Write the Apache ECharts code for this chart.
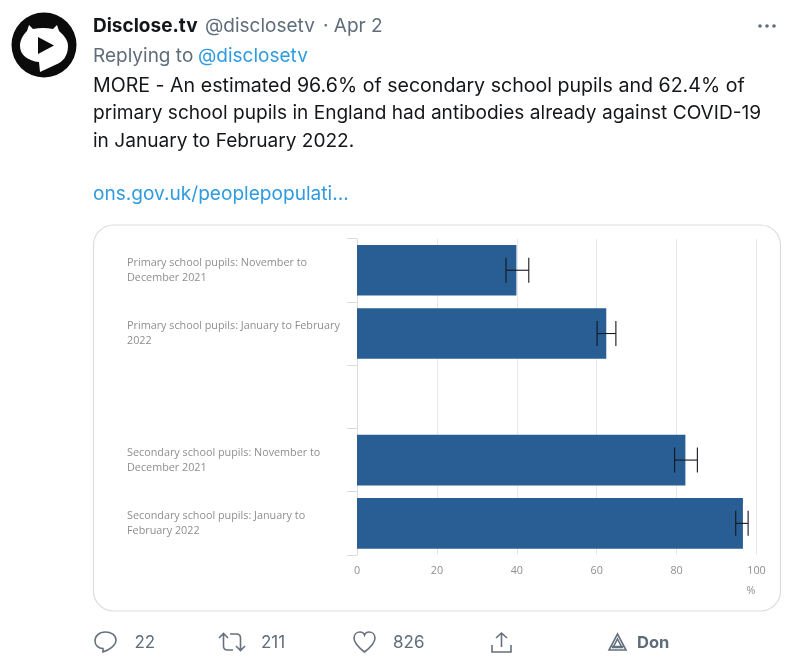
<!DOCTYPE html>
<html>
<head>
    <meta charset="utf-8">
    <title>Disclose.tv antibodies chart</title>
    <script src="https://cdn.jsdelivr.net/npm/echarts@6/dist/echarts.min.js"></script>
    <style>
        html, body { margin: 0; padding: 0; background: #fff; }
    </style>
</head>
<body>
    <div id="main" style="width: 800px;height:670px;"></div>
    <script type="text/javascript">
        // chart data
        var categories = [
            'Primary school pupils: November to\nDecember 2021',
            'Primary school pupils: January to February\n2022',
            '',
            'Secondary school pupils: November to\nDecember 2021',
            'Secondary school pupils: January to\nFebruary 2022'
        ];
        var percentages = [39.9, 62.4, null, 82.2, 96.6];
        var errorLow = [37.3, 60.1, null, 79.5, 94.8];
        var errorHigh = [43.0, 64.8, null, 85.2, 97.9];
        var xTicks = { min: 0, max: 100, interval: 20 };

        // tweet text
        var bodyLines = [
            'MORE - An estimated 96.6% of secondary school pupils and 62.4% of',
            'primary school pupils in England had antibodies already against COVID-19',
            'in January to February 2022.'
        ];
        var tweetCounts = ['22', '211', '826'];

        var tweetFont = 'Inter, "Noto Sans", sans-serif';
        var grayText = '#5f6d7a';
        var iconColor = '#66717d';

        // graphic has no plain path type, so the icons are registered as shapes
        var iconPaths = {
            avatarBubble: 'M9 1 L13 5 Q23 3 33 5 L37 1 L39 7 C45 12 48 17 48 22 C48 32 43 38 35 41 L20 48 L19 38 C8 37 0 31 0 22 C0 16 3 11 7 7 Z',
            reply: 'M10.5 0 C4 0 0 4 0 9 C0 13.5 3.5 16.5 8 16.5 L8 20 C14 18 21 13.5 21 8 C21 3 16 0 10.5 0 Z',
            retweet: 'M0 5 L4.5 0.5 L9 5 M4.5 0.5 V13 Q4.5 17 8.5 17 H14 M26 13 L21.5 17.5 L17 13 M21.5 17.5 V5 Q21.5 1 17.5 1 H11',
            heart: 'M10.5 20 C4 15 0 11 0 6 C0 2 3 0 6 0 C8 0 10 1.5 10.5 3 C11 1.5 13 0 15 0 C18 0 21 2 21 6 C21 11 17 15 10.5 20 Z',
            share: 'M9.5 15 V1 M4 6 L9.5 1 L15 6 M0 13 V20 H19 V13',
            donate: 'M8.5 0 L17 16 H0 Z M8.5 5 L13 13.5 H4 Z M2 12.5 H15'
        };
        Object.keys(iconPaths).forEach(function (name) {
            echarts.graphic.registerShape(name, echarts.graphic.extendPath(iconPaths[name], {}));
        });

        function label(x, y, text, size, color, weight) {
            return {
                type: 'text',
                x: x,
                y: y,
                silent: true,
                style: {
                    text: text,
                    fill: color,
                    font: (weight || 'normal') + ' ' + size + 'px ' + tweetFont,
                    verticalAlign: 'middle'
                }
            };
        }

        function icon(name, x, y, fill) {
            return {
                type: name,
                silent: true,
                x: x,
                y: y,
                style: {
                    fill: fill || 'none',
                    stroke: fill ? 'none' : iconColor,
                    lineWidth: 1.6
                }
            };
        }

        // tweet chrome around the chart
        var chrome = [
            // card
            {
                type: 'rect', silent: true, z: -1,
                shape: { x: 93.5, y: 225, width: 687, height: 386, r: 20 },
                style: { fill: '#fff', stroke: '#d9dde1', lineWidth: 1.2 }
            },
            // avatar
            { type: 'circle', silent: true, shape: { cx: 44, cy: 45, r: 32.5 }, style: { fill: '#0b0b0b' } },
            icon('avatarBubble', 20, 24, '#fff'),
            { type: 'polygon', silent: true, shape: { points: [[38, 37], [54, 45.5], [38, 54]] }, style: { fill: '#0b0b0b' } },

            // header
            label(93, 26.5, 'Disclose.tv', 19, '#14171a', 'bold'),
            label(205, 26.5, '@disclosetv', 19, grayText),
            label(323, 26.5, '· Apr 2', 19, grayText),
            label(93, 56, 'Replying to', 19, grayText),
            label(198, 56, '@disclosetv', 19, '#2f9be0'),
            label(93, 86, bodyLines[0], 19.6, '#14171a'),
            label(93, 113.5, bodyLines[1], 19.1, '#14171a'),
            label(93, 141, bodyLines[2], 19.1, '#14171a'),
            label(93, 194.5, 'ons.gov.uk/peoplepopulati…', 19.1, '#2f9be0'),

            // more menu
            { type: 'circle', silent: true, shape: { cx: 760, cy: 26, r: 1.8 }, style: { fill: grayText } },
            { type: 'circle', silent: true, shape: { cx: 767, cy: 26, r: 1.8 }, style: { fill: grayText } },
            { type: 'circle', silent: true, shape: { cx: 774, cy: 26, r: 1.8 }, style: { fill: grayText } },

            // axis unit
            {
                type: 'text', silent: true, x: 751, y: 590.5,
                style: {
                    text: '%', fill: '#8f8f8f', font: '10.8px "Open Sans"',
                    align: 'center', verticalAlign: 'middle'
                }
            },

            // action bar
            icon('reply', 95, 632),
            label(134.5, 642.5, tweetCounts[0], 17, grayText),
            icon('retweet', 219, 633),
            label(261, 642.5, tweetCounts[1], 17, grayText),
            icon('heart', 354, 632),
            label(393, 642.5, tweetCounts[2], 17, grayText),
            icon('share', 492, 632),
            icon('donate', 609, 634),
            label(637, 643, 'Don', 16.5, grayText, 'bold')
        ];

        var myChart = echarts.init(document.getElementById('main'), null, { renderer: 'canvas' });
        var option = {
            backgroundColor: '#fff',
            animation: false,
            graphic: { elements: chrome },
            grid: { left: 357, right: 43.5, top: 238.6, bottom: 115 },
            xAxis: {
                type: 'value',
                min: xTicks.min,
                max: xTicks.max,
                interval: xTicks.interval,
                axisLine: { show: false },
                axisTick: { show: false },
                splitLine: { show: true, lineStyle: { color: '#e8e8ea', width: 1 } },
                axisLabel: {
                    margin: 10,
                    color: '#8f8f8f',
                    fontFamily: 'Open Sans',
                    fontSize: 10.8
                }
            },
            yAxis: {
                type: 'category',
                inverse: true,
                data: categories,
                axisLine: { show: true, lineStyle: { color: '#dcdde0', width: 1 } },
                axisTick: { show: true, length: 10, alignWithLabel: false, lineStyle: { color: '#dcdde0' } },
                axisLabel: {
                    margin: 230,
                    align: 'left',
                    padding: [3, 0, 0, 0],
                    color: '#8f8f8f',
                    fontFamily: 'Open Sans',
                    fontSize: 10.8,
                    lineHeight: 15
                }
            },
            series: [
                {
                    name: 'Pupils with antibodies',
                    type: 'bar',
                    data: percentages,
                    barWidth: 50.7,
                    itemStyle: { color: '#285e93' }
                },
                {
                    name: 'Confidence interval',
                    type: 'custom',
                    z: 5,
                    encode: { x: [1, 2], y: 0 },
                    data: categories.map(function (c, i) {
                        return [i, errorLow[i], errorHigh[i]];
                    }),
                    renderItem: function (params, api) {
                        if (errorLow[params.dataIndex] == null) {
                            return;
                        }
                        var low = api.coord([api.value(1), api.value(0)]);
                        var high = api.coord([api.value(2), api.value(0)]);
                        var capH = 12.5;
                        var lineStyle = { stroke: '#14181f', lineWidth: 1.1, fill: 'none' };
                        return {
                            type: 'group',
                            children: [
                                { type: 'line', shape: { x1: low[0], y1: low[1], x2: high[0], y2: high[1] }, style: lineStyle },
                                { type: 'line', shape: { x1: low[0], y1: low[1] - capH, x2: low[0], y2: low[1] + capH }, style: lineStyle },
                                { type: 'line', shape: { x1: high[0], y1: high[1] - capH, x2: high[0], y2: high[1] + capH }, style: lineStyle }
                            ]
                        };
                    }
                }
            ]
        };
        myChart.setOption(option);
    </script>
</body>
</html>
